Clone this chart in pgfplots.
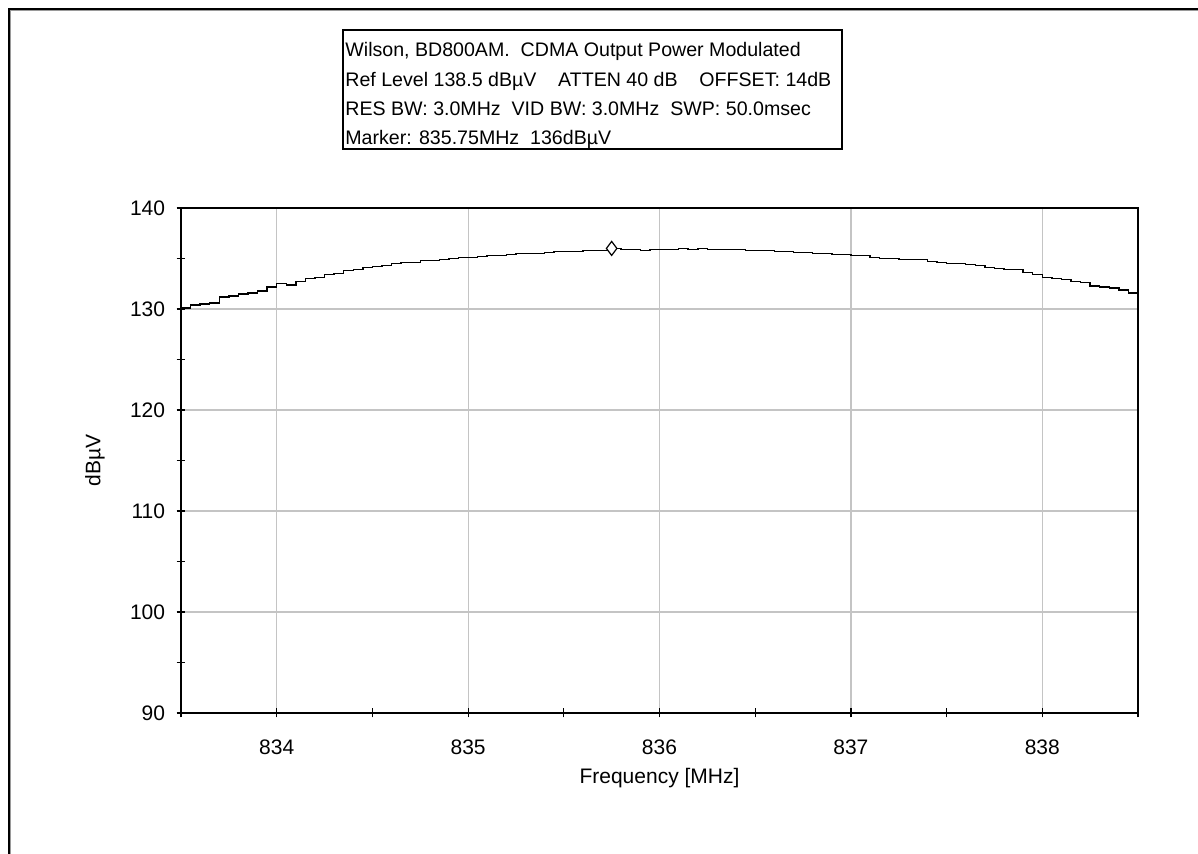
\documentclass[border=0pt]{standalone}
\usepackage{pgfplots}
\pgfplotsset{compat=1.18}
\usepackage{fontspec}
\setmainfont{Liberation Sans}
\definecolor{gridgray}{HTML}{C4C4C4}
\definecolor{framegray}{HTML}{9A9A9A}

\begin{document}
\begin{tikzpicture}
\useasboundingbox (-90.5pt,-70.5pt) rectangle (508.5pt,356.5pt);
% window frame (top and left edges)
\draw[black, line width=1pt] (-86pt,-70.5pt) -- (-86pt,352pt) -- (508.5pt,352pt);
\draw[framegray, line width=0.5pt] (-85.25pt,-70.5pt) -- (-85.25pt,351.25pt) -- (508.5pt,351.25pt);

\begin{axis}[
  at={(0pt,0pt)}, anchor=south west,
  scale only axis,
  width=478.5pt, height=252.5pt,
  xmin=833.5, xmax=838.5,
  ymin=90, ymax=140,
  xtick={834,835,836,837,838},
  minor xtick={833.5,834.5,835.5,836.5,837.5,838.5},
  ytick={90,100,110,120,130,140},
  minor ytick={95,105,115,125,135},
  xtick pos=left, ytick pos=left,
  tick align=center,
  major tick length=4.5pt, minor tick length=4.5pt,
  every tick/.style={black, line width=0.6pt},
  xmajorgrids, ymajorgrids,
  major grid style={gridgray, line width=0.6pt},
  axis line style={black, line width=0.9pt},
  font=\fontsize{10.5}{12}\selectfont,
  /pgf/number format/assume math mode=true,
  /pgf/number format/set thousands separator={},
  every tick label/.append style={inner sep=0pt},
  yticklabel style={xshift=-5.5pt},
  xticklabel style={yshift=-11pt},
  xlabel={Frequency [MHz]},
  ylabel={dBµV},
  x label style={at={(axis description cs:0.5,0)}, anchor=center, yshift=-32.5pt},
  y label style={at={(axis description cs:-0.0899,0.5)}, anchor=center},
  clip=false,
]
\addplot[const plot, black, line width=0.75pt, mark=none] coordinates {
(833.50,130.1) (833.55,130.4) (833.60,130.5) (833.65,130.6) (833.70,131.2)
(833.75,131.3) (833.80,131.5) (833.85,131.6) (833.90,131.8) (833.95,132.2)
(834.00,132.5) (834.05,132.4) (834.10,132.7) (834.15,133.0) (834.20,133.1)
(834.25,133.4) (834.30,133.5) (834.35,133.8) (834.40,133.9) (834.45,134.1)
(834.50,134.2) (834.55,134.3) (834.60,134.5) (834.65,134.6) (834.70,134.6)
(834.75,134.8) (834.80,134.8) (834.85,134.9) (834.90,135.0) (834.95,135.1)
(835.00,135.1) (835.05,135.2) (835.10,135.3) (835.15,135.3) (835.20,135.4)
(835.25,135.5) (835.30,135.5) (835.35,135.5) (835.40,135.6) (835.45,135.7)
(835.50,135.7) (835.55,135.7) (835.60,135.8) (835.65,135.8) (835.70,135.8)
(835.75,136.0) (835.80,135.9) (835.85,135.9) (835.90,135.8) (835.95,135.9)
(836.00,135.9) (836.05,135.9) (836.10,136.0) (836.15,135.9) (836.20,136.0)
(836.25,135.9) (836.30,135.9) (836.35,135.9) (836.40,135.9) (836.45,135.8)
(836.50,135.8) (836.55,135.8) (836.60,135.7) (836.65,135.7) (836.70,135.6)
(836.75,135.6) (836.80,135.5) (836.85,135.5) (836.90,135.4) (836.95,135.4)
(837.00,135.3) (837.05,135.3) (837.10,135.1) (837.15,135.0) (837.20,135.0)
(837.25,134.9) (837.30,134.9) (837.35,134.9) (837.40,134.7) (837.45,134.6)
(837.50,134.5) (837.55,134.5) (837.60,134.4) (837.65,134.3) (837.70,134.1)
(837.75,134.0) (837.80,133.9) (837.85,133.9) (837.90,133.6) (837.95,133.4)
(838.00,133.1) (838.05,133.0) (838.10,132.9) (838.15,132.7) (838.20,132.6)
(838.25,132.3) (838.30,132.2) (838.35,132.1) (838.40,131.9) (838.45,131.6)
(838.50,131.3)
};
% marker position
\addplot[black, line width=0.6pt, only marks, mark=diamond*, mark size=3.5pt,
  mark options={fill=white}] coordinates {(835.75,136)};
\end{axis}

% header box
\draw[black, line width=0.75pt] (81pt,341.5pt) rectangle (330.5pt,282pt);
\begin{scope}[every node/.style={anchor=base west, inner sep=0pt, font=\fontsize{9.8}{12}\selectfont}]
\node at (82pt,328.25pt) {Wilson, BD800AM.\ \ CDMA Output Power Modulated};
\node at (82pt,313.25pt) {Ref Level 138.5 dBµV\ \ \ \ ATTEN 40 dB\ \ \ \ OFFSET: 14dB};
\node at (82pt,298.75pt) {RES BW: 3.0MHz\ \ VID BW: 3.0MHz\ \ SWP: 50.0msec};
\node at (82pt,284.25pt) {Marker: 835.75MHz\ \ 136dBµV};
\end{scope}
\end{tikzpicture}
\end{document}
